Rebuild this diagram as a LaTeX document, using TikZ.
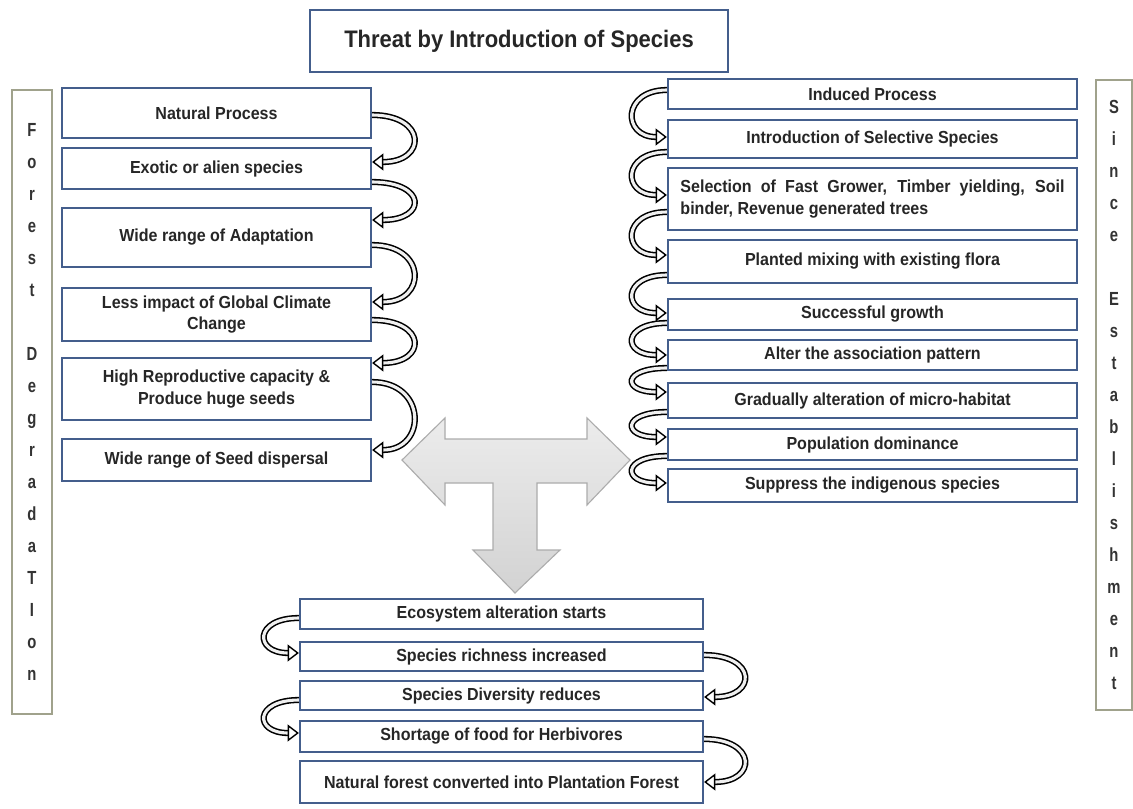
\documentclass[tikz,border=0pt]{standalone}
\usepackage{fontspec}
\setmainfont{Liberation Sans}
\newfontfamily\narrowbf{Liberation Sans}[FakeStretch=0.92]
\newfontfamily\sidebf{Liberation Sans}[FakeStretch=0.78]
\usetikzlibrary{arrows.meta,calc}
\definecolor{boxblue}{RGB}{68,94,140}
\definecolor{sidegray}{RGB}{160,162,140}

\begin{document}
\begin{tikzpicture}[x=0.025cm, y=-0.025cm,
    stepbox/.style={draw=boxblue, line width=1.5pt, fill=white, align=center, inner sep=2pt,
        text=black!85, font=\narrowbf\bfseries\fontsize{12.4}{15}\selectfont},
    sidebox/.style={draw=sidegray, line width=1.2pt, align=center, inner sep=0pt,
        text=black!80, font=\sidebf\bfseries\fontsize{13.5}{22.76}\selectfont},
    curl/.style={line width=1.1pt, double=gray!12, double distance=2.2pt,
        -{Triangle[open, length=8pt, width=12pt, line width=1pt]}}]
    \useasboundingbox (0,0) rectangle (1133,809);

    % title
    \node[stepbox, minimum width=10.45cm, minimum height=1.55cm,
        font=\narrowbf\bfseries\fontsize{17}{20}\selectfont] (title) at (519,41) {Threat by Introduction of Species};

    % side labels
    \node[sidebox, minimum width=1cm, minimum height=15.6cm] (forest) at (32,402)
        {F\\o\\r\\e\\s\\t\\[22.76pt]D\\e\\g\\r\\a\\d\\a\\T\\I\\o\\n};
    \node[sidebox, minimum width=0.9cm, minimum height=15.75cm] (since) at (1114,395)
        {S\\i\\n\\c\\e\\[22.76pt]E\\s\\t\\a\\b\\l\\i\\s\\h\\m\\e\\n\\t};

    % natural process
    \node[stepbox, minimum width=7.725cm, minimum height=1.25cm] (l1) at (216.5,113) {Natural Process};
    \node[stepbox, minimum width=7.725cm, minimum height=1.025cm] (l2) at (216.5,168.5) {Exotic or alien species};
    \node[stepbox, minimum width=7.725cm, minimum height=1.475cm] (l3) at (216.5,237.5) {Wide range of Adaptation};
    \node[stepbox, minimum width=7.725cm, minimum height=1.325cm] (l4) at (216.5,314.5) {Less impact of Global Climate\\Change};
    \node[stepbox, minimum width=7.725cm, minimum height=1.55cm] (l5) at (216.5,389) {High Reproductive capacity \&\\Produce huge seeds};
    \node[stepbox, minimum width=7.725cm, minimum height=1.05cm] (l6) at (216.5,460) {Wide range of Seed dispersal};

    % induced process
    \node[stepbox, minimum width=10.225cm, minimum height=0.75cm] (r1) at (872.5,94) {Induced Process};
    \node[stepbox, minimum width=10.225cm, minimum height=0.95cm] (r2) at (872.5,139) {Introduction of Selective Species};
    \node[stepbox, minimum width=10.225cm, minimum height=1.55cm, text width=9.6cm, align=justify] (r3) at (872.5,199)
        {Selection of Fast Grower, Timber yielding, Soil\linebreak binder, Revenue generated trees};
    \node[stepbox, minimum width=10.225cm, minimum height=1.075cm] (r4) at (872.5,261.5) {Planted mixing with existing flora};
    \node[stepbox, minimum width=10.225cm, minimum height=0.775cm] (r5) at (872.5,314.5) {Successful growth};
    \node[stepbox, minimum width=10.225cm, minimum height=0.75cm] (r6) at (872.5,355) {Alter the association pattern};
    \node[stepbox, minimum width=10.225cm, minimum height=0.875cm] (r7) at (872.5,400.5) {Gradually alteration of micro-habitat};
    \node[stepbox, minimum width=10.225cm, minimum height=0.775cm] (r8) at (872.5,444.5) {Population dominance};
    \node[stepbox, minimum width=10.225cm, minimum height=0.825cm] (r9) at (872.5,485.5) {Suppress the indigenous species};

    % outcome
    \node[stepbox, minimum width=10.075cm, minimum height=0.75cm] (b1) at (501.5,614) {Ecosystem alteration starts};
    \node[stepbox, minimum width=10.075cm, minimum height=0.725cm] (b2) at (501.5,656.5) {Species richness increased};
    \node[stepbox, minimum width=10.075cm, minimum height=0.725cm] (b3) at (501.5,695.5) {Species Diversity reduces};
    \node[stepbox, minimum width=10.075cm, minimum height=0.775cm] (b4) at (501.5,736.5) {Shortage of food for Herbivores};
    \node[stepbox, minimum width=10.075cm, minimum height=1.05cm] (b5) at (501.5,782) {Natural forest converted into Plantation Forest};

    % T arrow
    \draw[gray!65, line width=0.8pt, top color=gray!15, bottom color=gray!35]
        (402,460) -- (445,418) -- (445,439) -- (587,439) -- (587,418) -- (630,460)
        -- (587,505) -- (587,483) -- (537,483) -- (537,550) -- (560,550) -- (515,593)
        -- (473,550) -- (493,550) -- (493,483) -- (445,483) -- (445,505) -- cycle;

    % curls, left column
    \draw[curl] ($(l1.east)+(0,2)$) .. controls +(55,0) and +(55,0) .. ($(l2.east)+(0,-6.5)$);
    \draw[curl] ($(l2.east)+(0,13.5)$) .. controls +(55,0) and +(55,0) .. ($(l3.east)+(0,-17.5)$);
    \draw[curl] ($(l3.east)+(0,7.5)$) .. controls +(55,0) and +(55,0) .. ($(l4.east)+(0,-12.5)$);
    \draw[curl] ($(l4.east)+(0,5.5)$) .. controls +(55,0) and +(55,0) .. ($(l5.east)+(0,-26)$);
    \draw[curl] ($(l5.east)+(0,-7)$) .. controls +(55,0) and +(55,0) .. ($(l6.east)+(0,-10)$);

    % curls, right column
    \draw[curl] ($(r1.west)+(0,-4)$) .. controls +(-45,0) and +(-45,0) .. ($(r2.west)+(0,-2)$);
    \draw[curl] ($(r2.west)+(0,13)$) .. controls +(-45,0) and +(-45,0) .. ($(r3.west)+(0,-4)$);
    \draw[curl] ($(r3.west)+(0,13)$) .. controls +(-45,0) and +(-45,0) .. ($(r4.west)+(0,-6.5)$);
    \draw[curl] ($(r4.west)+(0,13.5)$) .. controls +(-45,0) and +(-45,0) .. ($(r5.west)+(0,-1.5)$);
    \draw[curl] ($(r5.west)+(0,8.5)$) .. controls +(-45,0) and +(-45,0) .. (r6.west);
    \draw[curl] ($(r6.west)+(0,13)$) .. controls +(-45,0) and +(-45,0) .. ($(r7.west)+(0,-8.5)$);
    \draw[curl] ($(r7.west)+(0,11.5)$) .. controls +(-45,0) and +(-45,0) .. ($(r8.west)+(0,-7.5)$);
    \draw[curl] ($(r8.west)+(0,11.5)$) .. controls +(-45,0) and +(-45,0) .. ($(r9.west)+(0,-2.5)$);

    % curls, bottom
    \draw[curl] ($(b1.west)+(0,4)$) .. controls +(-45,0) and +(-45,0) .. ($(b2.west)+(0,-3.5)$);
    \draw[curl] ($(b2.east)+(0,-1.5)$) .. controls +(53,0) and +(53,0) .. ($(b3.east)+(0,1.5)$);
    \draw[curl] ($(b3.west)+(0,4.5)$) .. controls +(-45,0) and +(-45,0) .. ($(b4.west)+(0,-3.5)$);
    \draw[curl] ($(b4.east)+(0,2.5)$) .. controls +(53,0) and +(53,0) .. (b5.east);
\end{tikzpicture}
\end{document}
